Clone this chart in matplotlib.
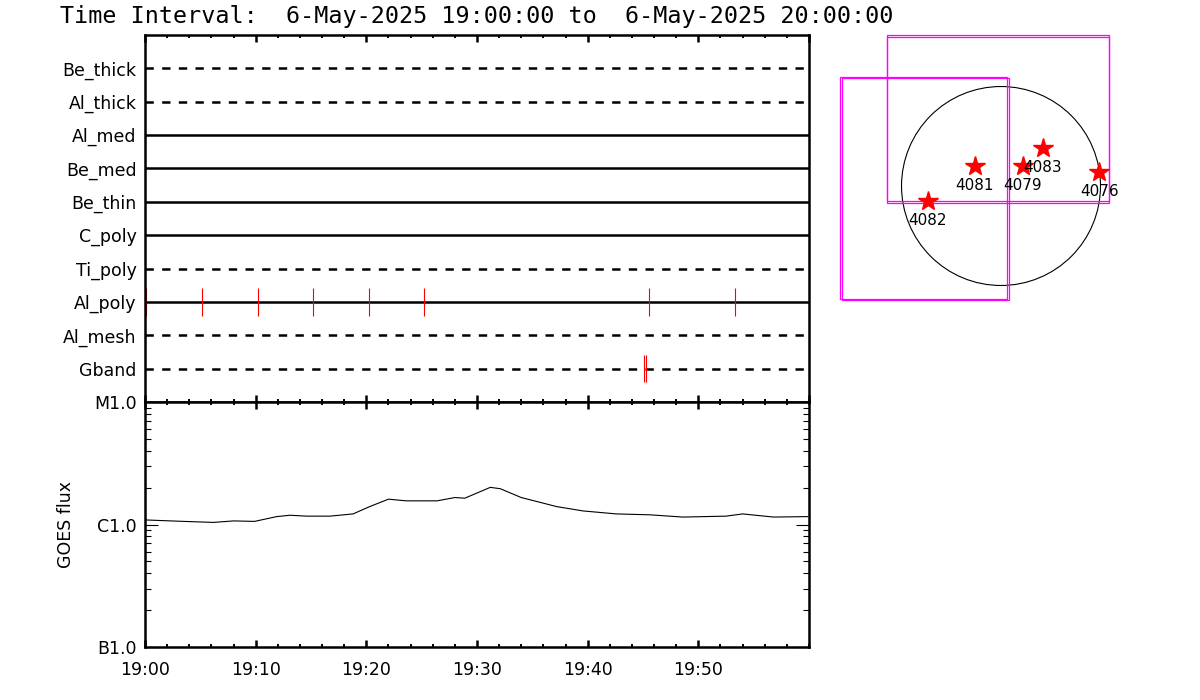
import matplotlib
matplotlib.use('Agg')
import matplotlib.pyplot as plt
from matplotlib.patches import Circle, Rectangle
from matplotlib.ticker import FixedLocator, LogLocator, NullFormatter

plt.rcParams['font.family'] = 'DejaVu Sans'
plt.rcParams['lines.scale_dashes'] = False

# channels, top to bottom, and whether they are drawn dashed
channels = ['Be_thick', 'Al_thick', 'Al_med', 'Be_med', 'Be_thin',
            'C_poly', 'Ti_poly', 'Al_poly', 'Al_mesh', 'Gband']
dashed = [True, True, False, False, False, False, True, False, True, True]

# event times (minutes after 19:00) marked per channel
alpoly_events = [0.1, 5.15, 10.2, 15.2, 20.25, 25.2, 45.55, 53.3]
gband_events = [45.05, 45.25]

# GOES flux (W/m^2)
goes_t = [0, 3.5, 6.2, 8.0, 9.9, 11.9, 13.1, 14.6, 16.7, 18.8, 20.3, 22.0,
          23.6, 26.4, 28.0, 28.9, 31.2, 32.1, 34.0, 37.2, 39.6, 42.6, 45.6,
          48.6, 52.5, 54.0, 56.8, 59.9]
goes_flux = [1.09e-6, 1.06e-6, 1.04e-6, 1.07e-6, 1.06e-6, 1.16e-6, 1.19e-6,
             1.17e-6, 1.17e-6, 1.22e-6, 1.40e-6, 1.61e-6, 1.56e-6, 1.56e-6,
             1.66e-6, 1.64e-6, 2.01e-6, 1.96e-6, 1.66e-6, 1.40e-6, 1.29e-6,
             1.22e-6, 1.20e-6, 1.15e-6, 1.17e-6, 1.22e-6, 1.15e-6, 1.16e-6]
goes_ticks = [1e-7, 1e-6, 1e-5]
goes_labels = ['B1.0', 'C1.0', 'M1.0']

time_ticks = [0, 10, 20, 30, 40, 50]
time_labels = ['19:00', '19:10', '19:20', '19:30', '19:40', '19:50']

# active regions (arcsec) and field-of-view boxes (x0, y0, x1, y1)
ar_nums = ['4081', '4079', '4083', '4076', '4082']
ar_x = [-251, 209, 402, 949, -707]
ar_y = [196, 196, 364, 132, -142]
boxes = [(-1100, -142, 1042, 1460), (-1100, -161, 1042, 1435),
         (-1554, -1093, 55, 1049), (-1535, -1100, 77, 1040)]
r_sun = 960

W, H = 1200, 700
fig = plt.figure(figsize=(W / 100, H / 100), dpi=100)

fig.text(60 / W, 1 - 16 / H,
         'Time Interval:  6-May-2025 19:00:00 to  6-May-2025 20:00:00',
         fontsize=16.8, family='DejaVu Sans Mono', va='center', ha='left')

# --- upper panel: channel timelines
ax1 = fig.add_axes([145 / W, 1 - 402 / H, 664 / W, 367 / H])
n = len(channels)
for i, (name, d) in enumerate(zip(channels, dashed)):
    yv = n - i
    ax1.plot([0, 60], [yv, yv], color='black', lw=1.8,
             linestyle=(0, (6, 6)) if d else '-')
yal = n - channels.index('Al_poly')
ax1.vlines(alpoly_events, yal - 0.42, yal + 0.42, color='red', lw=0.8)
ygb = n - channels.index('Gband')
ax1.vlines(gband_events, ygb - 0.4, ygb + 0.4, color='red', lw=0.8)
ax1.set_xlim(0, 60)
ax1.set_ylim(0, n + 1)
ax1.set_yticks(range(n, 0, -1))
ax1.set_yticklabels(channels, fontsize=12.5)
ax1.tick_params(axis='y', length=0, pad=6)
ax1.xaxis.set_major_locator(FixedLocator(range(0, 61, 10)))
ax1.xaxis.set_minor_locator(FixedLocator(range(0, 61, 2)))
ax1.tick_params(axis='x', which='both', direction='in', top=True, bottom=True,
                labelbottom=False)
ax1.tick_params(axis='x', which='major', length=5, width=1.8)
ax1.tick_params(axis='x', which='minor', length=2.5, width=1.4)
for s in ax1.spines.values():
    s.set_linewidth(1.8)

# --- lower panel: GOES flux
ax2 = fig.add_axes([145 / W, 1 - 647 / H, 664 / W, 245 / H])
ax2.plot(goes_t, goes_flux, color='black', lw=0.8)
ax2.set_yscale('log')
ax2.set_ylim(1e-7, 1e-5)
ax2.set_xlim(0, 60)
ax2.set_yticks(goes_ticks)
ax2.set_yticklabels(goes_labels, fontsize=12.5)
ax2.yaxis.set_minor_locator(LogLocator(base=10, subs=range(2, 10)))
ax2.yaxis.set_minor_formatter(NullFormatter())
ax2.tick_params(axis='y', which='both', direction='in', left=True, right=True,
                width=0.8, pad=6)
ax2.tick_params(axis='y', which='major', length=9.5)
ax2.tick_params(axis='y', which='minor', length=4.3)
ax2.set_xticks(time_ticks)
ax2.set_xticklabels(time_labels, fontsize=12.5)
ax2.xaxis.set_minor_locator(FixedLocator(range(0, 61, 2)))
ax2.tick_params(axis='x', which='both', direction='in', top=True, bottom=True,
                pad=10)
ax2.tick_params(axis='x', which='major', length=5, width=1.8)
ax2.tick_params(axis='x', which='minor', length=2.5, width=1.4)
ax2.set_ylabel('GOES flux', fontsize=12.5, labelpad=14)
for s in ax2.spines.values():
    s.set_linewidth(1.8)

# --- right panel: solar disk with regions
scale = 9.65  # arcsec per pixel
cx, cy = 1001, 186
ax3 = fig.add_axes([830 / W, 1 - 310 / H, 290 / W, 285 / H])
ax3.set_xlim((830 - cx) * scale, (1120 - cx) * scale)
ax3.set_ylim((cy - 310) * scale, (cy - 25) * scale)
ax3.axis('off')
ax3.add_patch(Circle((0, 0), r_sun, fill=False, color='black', lw=0.8))
for x0, y0, x1, y1 in boxes:
    ax3.add_patch(Rectangle((x0, y0), x1 - x0, y1 - y0, fill=False,
                            edgecolor='magenta', lw=0.9, clip_on=False))
ax3.plot(ar_x, ar_y, linestyle='none', marker='*', ms=15, color='red',
         markeredgecolor='red')
for num, x, y in zip(ar_nums, ar_x, ar_y):
    ax3.text(x, y - 19.5 * scale, num, fontsize=11, ha='center', va='center')

fig.savefig('out.png', dpi=100)
